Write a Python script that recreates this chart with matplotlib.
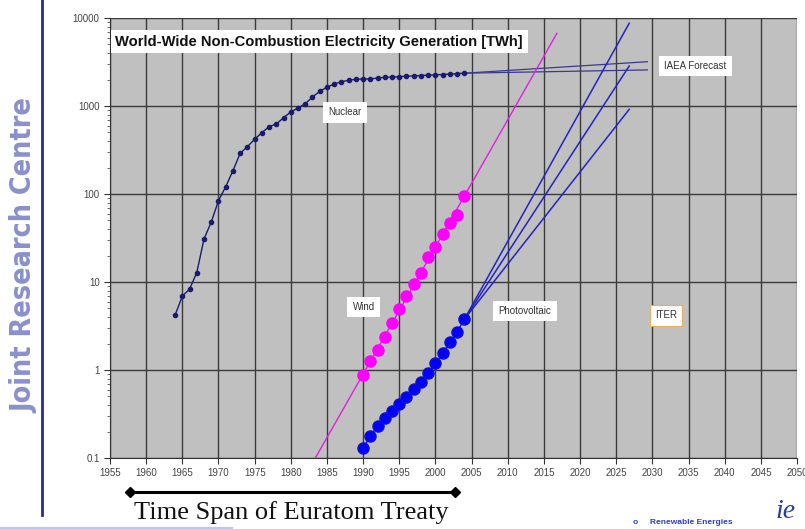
import matplotlib
matplotlib.use("Agg")
import matplotlib.pyplot as plt
import numpy as np
from matplotlib.ticker import FixedLocator, LogLocator, NullFormatter
from matplotlib import font_manager

# ---------------- data ----------------
nuc_years = list(range(1964, 2005))
nuc_vals = [4.2, 6.9, 8.3, 12.8, 30.8, 48, 84, 121, 184, 290, 345, 419, 498, 582,
            624, 736, 855, 949, 1062, 1265, 1468, 1632, 1778, 1888, 1959, 2010,
            2027, 2027, 2080, 2118, 2130, 2155, 2180, 2200, 2220, 2240, 2260,
            2280, 2300, 2330, 2360]

ren_years = list(range(1990, 2005))
wind_vals = [0.877, 1.28, 1.69, 2.39, 3.39, 4.93, 6.98, 9.5, 12.8, 19.4, 25.2,
             34.8, 46.4, 57.3, 94.9]
pv_vals = [0.129, 0.178, 0.231, 0.287, 0.345, 0.411, 0.49, 0.608, 0.736, 0.93,
           1.19, 1.55, 2.07, 2.72, 3.77]

wind_trend_years = [1983.4, 2016.8]
wind_trend_vals = [0.1, 6700]

iaea_years = [2004, 2029.3]
iaea_high = [2360, 3185]
iaea_low = [2360, 2570]

pv_fc_years = [2004, 2026.8]
pv_fc_high = [3.77, 8710]
pv_fc_mid = [3.77, 2848]
pv_fc_low = [3.77, 917]

x_ticks = list(range(1955, 2051, 5))
y_ticks = [0.1, 1, 10, 100, 1000, 10000]
y_labels = ["0.1", "1", "10", "100", "1000", "10000"]

treaty_span = [1957.8, 2002.7]

cond_stretch = any(f.name == "DejaVu Sans" and f.stretch == "condensed"
                   for f in font_manager.fontManager.ttflist)

# ---------------- figure ----------------
fig = plt.figure(figsize=(8.05, 5.29), dpi=100)
fig.patch.set_facecolor("white")
ax = fig.add_axes([110/805, 1-458/529, 687/805, 440/529])
ax.set_facecolor("#c0c0c0")
ax.set_yscale("log")
ax.set_xlim(1955, 2050)
ax.set_ylim(0.1, 10000)

ax.xaxis.set_major_locator(FixedLocator(x_ticks))
ax.set_xticklabels([str(t) for t in x_ticks])
ax.yaxis.set_major_locator(FixedLocator(y_ticks))
ax.set_yticklabels(y_labels)
ax.yaxis.set_minor_locator(LogLocator(base=10, subs=np.arange(2, 10)))
ax.yaxis.set_minor_formatter(NullFormatter())

ax.grid(True, which="major", color="#3a3a3a", linewidth=1.0)
ax.set_axisbelow(True)
for s in ["top", "right"]:
    ax.spines[s].set_visible(False)
for s in ["left", "bottom"]:
    ax.spines[s].set_color("#333333")
ax.tick_params(axis="both", which="major", direction="out", length=4,
               color="#333333", labelsize=7, labelcolor="#444444")
ax.tick_params(axis="y", which="minor", direction="out", length=2, color="#555555")
for lbl in ax.get_xticklabels() + ax.get_yticklabels():
    lbl.set_fontfamily("Liberation Sans")

# nuclear
ax.plot(nuc_years, nuc_vals, color="#1a1a70", linewidth=1.0, marker="o",
        markersize=3.0, zorder=4)
ax.plot(iaea_years, iaea_high, color="#3a3a8c", linewidth=0.9, zorder=3)
ax.plot(iaea_years, iaea_low, color="#3a3a8c", linewidth=0.9, zorder=3)

# wind
ax.plot(wind_trend_years, wind_trend_vals, color="#e020e0", linewidth=1.0, zorder=3)
ax.plot(ren_years, wind_vals, color="#ff00ff", linestyle="none", marker="o",
        markersize=8, zorder=5)

# pv
for fc in (pv_fc_high, pv_fc_mid, pv_fc_low):
    ax.plot(pv_fc_years, fc, color="#2424c0", linewidth=1.1, zorder=3)
ax.plot(ren_years, pv_vals, color="#1010e8", linewidth=1.0, marker="o",
        markersize=8, markerfacecolor="#0000ff", markeredgecolor="#1010d0", zorder=5)

# title box
ax.text(0.008, 0.962, "World-Wide Non-Combustion Electricity Generation [TWh]",
        transform=ax.transAxes, ha="left", va="top", fontsize=10.6,
        fontweight="bold", family="Liberation Sans", color="#111111",
        bbox=dict(boxstyle="square,pad=0.3", facecolor="white", edgecolor="none"),
        zorder=6)

def label(x, y, s, ec="none"):
    ax.text(x, y, s, ha="center", va="center", fontsize=7, family="Liberation Sans",
            color="#333333",
            bbox=dict(boxstyle="square,pad=0.55", facecolor="white", edgecolor=ec,
                      linewidth=0.8), zorder=6)

label(1987.5, 850, "Nuclear")
label(1990.1, 5.2, "Wind")
label(2012.4, 4.7, "Photovoltaic")
label(2031.9, 4.2, "ITER", ec="#e8b060")
label(2035.9, 2850, "IAEA Forecast")

# treaty arrow
y_arrow = 1 - 492/529
x0 = ax.transData.transform((treaty_span[0], 1))[0] / fig.bbox.width
x1 = ax.transData.transform((treaty_span[1], 1))[0] / fig.bbox.width
fig.add_artist(matplotlib.lines.Line2D([x0, x1], [y_arrow, y_arrow], color="black",
                                       linewidth=2.2))
fig.add_artist(matplotlib.lines.Line2D([x0, x1], [y_arrow, y_arrow], color="black",
                                       linestyle="none", marker="D", markersize=5))
fig.text(291/805, 1-513/529, "Time Span of Euratom Treaty", ha="center", va="center",
         fontsize=19, family="Liberation Serif", color="#111111")

# left side branding
if cond_stretch:
    fig.text(24/805, 1-256/529, "Joint Research Centre", rotation=90, ha="center",
             va="center", fontsize=20.5, fontweight="bold", family="DejaVu Sans",
             fontstretch="condensed", color="#8a90cc")
else:
    fig.text(24/805, 1-256/529, "Joint Research Centre", rotation=90,
             ha="center", va="center", fontsize=21, fontweight="bold",
             family="Liberation Sans", color="#8a90cc")
fig.add_artist(matplotlib.lines.Line2D([42/805, 42/805], [1-515/529, 1.0],
                                       color="#2a2a9a", linewidth=2))
fig.add_artist(matplotlib.lines.Line2D([0, 232/805], [1-527.5/529, 1-527.5/529],
                                       color="#b8c8f0", linewidth=1.5))

# bottom right
fig.text(633/805, 1-522/529, "o", ha="left", va="center", fontsize=6,
         fontweight="bold", family="Liberation Sans", color="#2a40c0")
fig.text(650/805, 1-522/529, "Renewable Energies", ha="left", va="center",
         fontsize=6, fontweight="bold", family="Liberation Sans",
         color="#2a40c0")
fig.text(775/805, 1-512/529, "ie", ha="left", va="center", fontsize=20,
         style="italic", family="Liberation Serif", color="#2a3aa8")

fig.savefig("out.png", dpi=100, facecolor="white")
